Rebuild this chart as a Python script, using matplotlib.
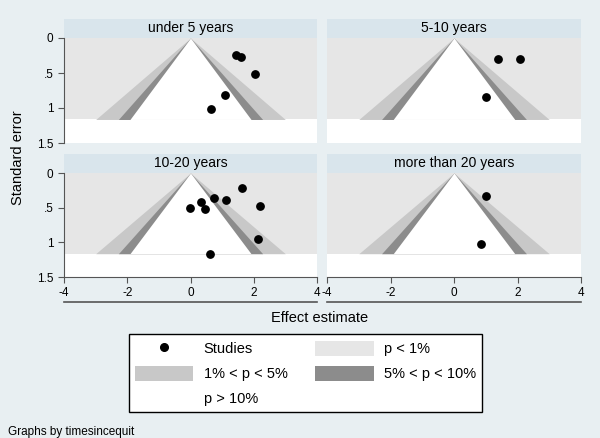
import numpy as np
import matplotlib
matplotlib.use('Agg')
import matplotlib.pyplot as plt
from matplotlib.patches import Patch, Rectangle
from matplotlib.lines import Line2D

plt.rcParams['font.family'] = ['Liberation Sans', 'DejaVu Sans']
plt.rcParams['axes.unicode_minus'] = False

# panel titles and study data (effect estimate, standard error)
groups = ['under 5 years', '5-10 years', '10-20 years', 'more than 20 years']
effects = [
    [1.45, 1.61, 2.03, 1.10, 0.65],
    [1.39, 2.07, 1.00],
    [-0.02, 0.33, 0.46, 0.75, 1.12, 1.63, 2.19, 2.14, 0.63],
    [1.00, 0.84],
]
std_errors = [
    [0.243, 0.276, 0.519, 0.819, 1.014],
    [0.305, 0.305, 0.838],
    [0.508, 0.412, 0.513, 0.364, 0.388, 0.216, 0.479, 0.958, 1.164],
    [0.326, 1.02],
]
# contour z values for 1%, 5%, 10% two-sided significance
z_levels = [2.576, 1.96, 1.645]
band_colors = ['#c8c8c8', '#8c8c8c', 'white']
outer_color = '#e6e6e6'
legend_labels = ['Studies', 'p < 1%', '1% < p < 5%', '5% < p < 10%', 'p > 10%']

bg = '#e8eff2'
strip = '#d9e5ec'
axcol = '#555555'

fig = plt.figure(figsize=(6, 4.38), dpi=100, facecolor=bg)
W, H = 600, 438
boxes = [(64, 38, 253, 105), (327, 38, 254, 105),
         (64, 173, 253, 104), (327, 173, 254, 104)]

se_max = max(max(s) for s in std_errors)
se_grid = np.linspace(0, se_max, 50)

for i, (x0, y0, w, h) in enumerate(boxes):
    ax = fig.add_axes([x0 / W, 1 - (y0 + h) / H, w / W, h / H])
    ax.set_facecolor('white')
    ax.set_xlim(-4, 4)
    ax.set_ylim(1.5, 0)
    ax.fill_between([-4, 4], 0, se_max, color=outer_color, lw=0)
    for z, c in zip(z_levels, band_colors):
        ax.fill_betweenx(se_grid, -z * se_grid, z * se_grid, color=c, lw=0)
    ax.scatter(effects[i], std_errors[i], s=28, color='black', zorder=5)

    for sp in ax.spines.values():
        sp.set_visible(False)
    ax.set_xticks([-4, -2, 0, 2, 4])
    ax.set_yticks([0, 0.5, 1, 1.5])
    ax.set_yticklabels(['0', '.5', '1', '1.5'])
    ax.tick_params(colors=axcol, labelcolor='black', labelsize=8.5, length=4, width=0.8)
    if i % 2 == 0:
        ax.spines['left'].set_visible(True)
        ax.spines['left'].set_color(axcol)
    else:
        ax.tick_params(left=False, labelleft=False)
    if i >= 2:
        ax.spines['bottom'].set_visible(True)
        ax.spines['bottom'].set_color(axcol)
        ax.plot([0, 1], [-0.24, -0.24], transform=ax.transAxes, color=axcol,
                lw=1.2, clip_on=False)
    else:
        ax.tick_params(bottom=False, labelbottom=False)

    sh = 19.5 / h
    ax.add_patch(Rectangle((0, 1), 1, sh, transform=ax.transAxes, facecolor=strip,
                           edgecolor='none', clip_on=False))
    ax.text(0.5, 1 + sh / 2, groups[i], transform=ax.transAxes, ha='center',
            va='center', fontsize=10)

fig.text(320 / W, 1 - 318 / H, 'Effect estimate', ha='center', va='center', fontsize=10.5)
fig.text(18 / W, 1 - 158 / H, 'Standard error', ha='center', va='center',
         rotation=90, fontsize=10.5)
fig.text(8 / W, 1 - 432 / H, 'Graphs by timesincequit', ha='left', va='center', fontsize=8.5)

h_studies = Line2D([], [], marker='o', color='black', ls='none', markersize=5.5)
h_p1 = Patch(facecolor=outer_color)
h_p5 = Patch(facecolor=band_colors[0])
h_p10 = Patch(facecolor=band_colors[1])
h_ns = Patch(facecolor='white')
handles = [h_studies, h_p5, h_ns, h_p1, h_p10]
labels = [legend_labels[0], legend_labels[2], legend_labels[4], legend_labels[1], legend_labels[3]]
leg = fig.legend(handles, labels, ncol=2, loc='upper center',
                 bbox_to_anchor=(305.5 / W, 1 - 327 / H), fontsize=10.5,
                 frameon=True, fancybox=False, edgecolor='black', facecolor='white',
                 framealpha=1, handlelength=4.0, handleheight=1.25, labelspacing=0.62,
                 columnspacing=1.9, borderpad=0.45, handletextpad=0.7)
leg.get_frame().set_linewidth(1.0)

fig.savefig('out.png', dpi=100, facecolor=bg)
